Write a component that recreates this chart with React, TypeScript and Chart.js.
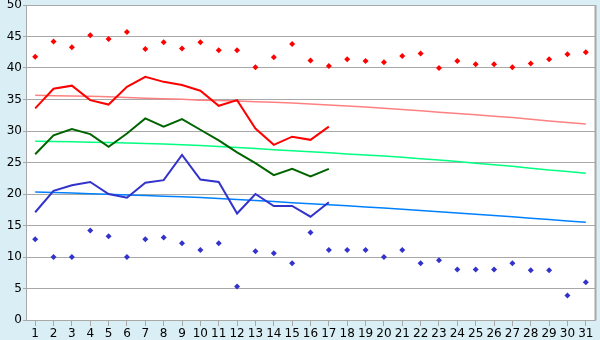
import React, { useEffect, useRef } from "react";
import { Chart, registerables } from "chart.js";

Chart.register(...registerables);

const days = ["1","2","3","4","5","6","7","8","9","10","11","12","13","14","15","16","17","18","19","20","21","22","23","24","25","26","27","28","29","30","31"];

const maxPoints = [41.8, 44.2, 43.3, 45.2, 44.6, 45.7, 43.0, 44.1, 43.1, 44.1, 42.8, 42.8, 40.1, 41.7, 43.8, 41.2, 40.3, 41.4, 41.1, 40.9, 41.9, 42.3, 40.0, 41.1, 40.6, 40.6, 40.1, 40.7, 41.4, 42.2, 42.5];
const minPoints = [12.8, 10.0, 10.0, 14.2, 13.3, 10.0, 12.8, 13.1, 12.2, 11.1, 12.2, 5.3, 10.9, 10.6, 9.0, 13.9, 11.1, 11.1, 11.1, 10.0, 11.1, 9.0, 9.5, 8.0, 8.0, 8.0, 9.0, 7.9, 7.9, 3.9, 6.0];

const redLine = [33.6, 36.7, 37.2, 34.9, 34.2, 37.0, 38.6, 37.8, 37.3, 36.4, 34.0, 34.9, 30.4, 27.8, 29.1, 28.6, 30.7];
const greenLine = [26.3, 29.3, 30.3, 29.5, 27.5, 29.6, 32.0, 30.7, 31.9, 30.2, 28.5, 26.6, 24.9, 23.0, 24.0, 22.8, 24.0];
const blueLine = [17.1, 20.5, 21.4, 21.9, 20.0, 19.4, 21.8, 22.2, 26.2, 22.3, 21.9, 16.9, 20.0, 18.1, 18.1, 16.4, 18.7];

const redTrend = [35.67, 35.60, 35.55, 35.50, 35.42, 35.30, 35.20, 35.10, 35.02, 34.90, 34.83, 34.75, 34.66, 34.55, 34.43, 34.29, 34.13, 33.97, 33.81, 33.63, 33.42, 33.20, 32.98, 32.77, 32.56, 32.36, 32.15, 31.88, 31.60, 31.35, 31.10];
const greenTrend = [28.36, 28.33, 28.28, 28.22, 28.16, 28.09, 28.01, 27.92, 27.82, 27.70, 27.55, 27.38, 27.21, 27.04, 26.87, 26.70, 26.53, 26.36, 26.19, 26.02, 25.85, 25.60, 25.38, 25.15, 24.90, 24.63, 24.40, 24.10, 23.80, 23.57, 23.29];
const blueTrend = [20.32, 20.23, 20.14, 20.05, 19.95, 19.85, 19.75, 19.65, 19.55, 19.45, 19.30, 19.14, 18.97, 18.80, 18.63, 18.46, 18.29, 18.12, 17.94, 17.76, 17.58, 17.39, 17.20, 17.00, 16.80, 16.60, 16.39, 16.17, 15.95, 15.73, 15.50];

const yTicks = [0, 5, 10, 15, 20, 25, 30, 35, 40, 45, 50];

const BG = "#daeff5";
const GRID = "#a8a8a8";

const framePlugin = {
  id: "frame",
  beforeDraw(chart: any) {
    const { ctx, chartArea, width, height } = chart;
    ctx.save();
    ctx.fillStyle = BG;
    ctx.fillRect(0, 0, width, height);
    ctx.fillStyle = "#ffffff";
    ctx.fillRect(chartArea.left, chartArea.top, chartArea.right - chartArea.left, chartArea.bottom - chartArea.top);
    ctx.restore();
  },
  beforeDatasetsDraw(chart: any) {
    const { ctx, chartArea } = chart;
    ctx.save();
    ctx.strokeStyle = GRID;
    ctx.lineWidth = 2;
    ctx.beginPath();
    ctx.moveTo(chartArea.right + 0.5, chartArea.top);
    ctx.lineTo(chartArea.right + 0.5, chartArea.bottom);
    ctx.stroke();
    ctx.restore();
  },
};

export default function App() {
  const ref = useRef<HTMLCanvasElement | null>(null);

  useEffect(() => {
    if (!ref.current) return;
    Chart.defaults.font.family = "'DejaVu Sans', Verdana, sans-serif";
    Chart.defaults.font.size = 12;
    Chart.defaults.color = "#000000";

    const lineDs = (data: number[], color: string, width: number, order: number) => ({
      type: "line" as const,
      data,
      borderColor: color,
      backgroundColor: color,
      borderWidth: width,
      pointRadius: 0,
      tension: 0,
      fill: false,
      order,
    });
    const pointDs = (data: number[], color: string) => ({
      type: "line" as const,
      data,
      showLine: false,
      borderColor: color,
      backgroundColor: color,
      pointStyle: "rectRot",
      pointRadius: 3,
      pointBorderWidth: 0,
      order: 0,
    });

    const chart = new Chart(ref.current, {
      type: "line",
      data: {
        labels: days,
        datasets: [
          pointDs(maxPoints, "#ff0000"),
          pointDs(minPoints, "#3333cc"),
          lineDs(redLine, "#ff0000", 2, 1),
          lineDs(greenLine, "#006400", 2, 1),
          lineDs(blueLine, "#3333cc", 2, 1),
          lineDs(redTrend, "#ff8080", 1.5, 2),
          lineDs(greenTrend, "#00ff80", 1.5, 2),
          lineDs(blueTrend, "#0080ff", 1.5, 2),
        ] as any,
      },
      options: {
        animation: false,
        responsive: false,
        devicePixelRatio: 1,
        layout: { padding: { top: 5, right: 5, left: 0, bottom: 0 } },
        plugins: { legend: { display: false }, tooltip: { enabled: false } },
        scales: {
          x: {
            type: "category",
            offset: true,
            grid: { display: true, drawOnChartArea: false, offset: false, tickLength: 6, color: GRID },
            border: { display: true, color: GRID, width: 1 },
            ticks: { color: "#000", padding: 1, maxRotation: 0, autoSkip: false, font: { size: 12 } },
            afterFit(scale: any) { scale.height = 20; scale.paddingLeft = 0; scale.paddingRight = 0; },
          },
          y: {
            min: 0,
            max: 50,
            afterBuildTicks(scale: any) { scale.ticks = yTicks.map((v) => ({ value: v })); },
            grid: { color: GRID, tickLength: 3 },
            border: { display: true, color: GRID, width: 1 },
            ticks: { color: "#000", padding: 1, font: { size: 12 } },
            afterFit(scale: any) { scale.width = 26; scale.paddingTop = 0; scale.paddingBottom = 0; },
          },
        },
      },
      plugins: [framePlugin],
    });
    return () => chart.destroy();
  }, []);

  return (
    <div style={{ position: "fixed", left: 0, top: 0, width: 600, height: 340, background: BG }}>
      <canvas ref={ref} width={600} height={340} style={{ display: "block", width: 600, height: 340 }} />
    </div>
  );
}
